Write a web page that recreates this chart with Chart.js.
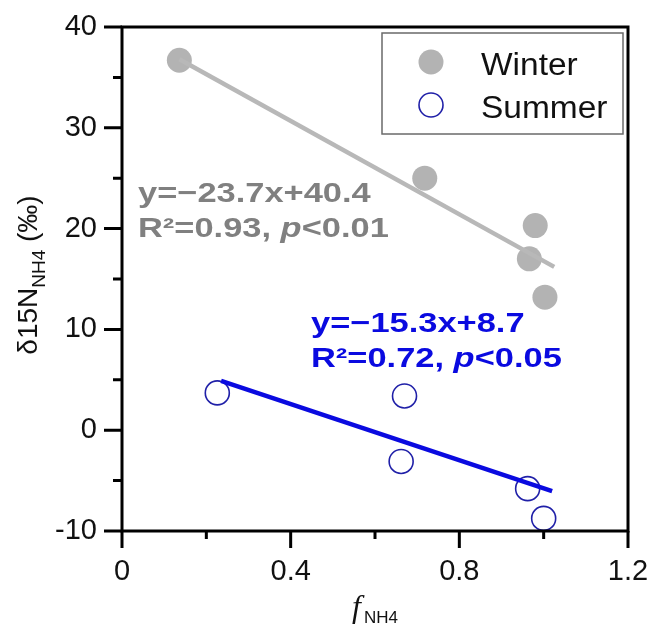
<!DOCTYPE html>
<html>
<head>
<meta charset="utf-8">
<script src="https://cdn.jsdelivr.net/npm/chart.js@4/dist/chart.umd.min.js"></script>
<style>
html, body { margin: 0; padding: 0; background: #fff; }
canvas { display: block; }
</style>
</head>
<body>
<canvas id="chart" width="649" height="625"></canvas>
<script>
// values
const winterX = [0.136, 0.718, 0.980, 0.966, 1.003];
const winterY = [36.7, 25.0, 20.3, 17.0, 13.2];
const summerX = [0.226, 0.670, 0.662, 0.962, 1.000];
const summerY = [3.7, 3.4, -3.1, -5.8, -8.75];
// fitted lines (end points as drawn)
const winterFitX = [0.136, 1.025];
const winterFitY = [36.8, 16.2];
const summerFitX = [0.235, 1.02];
const summerFitY = [4.9, -6.05];

const xMajor = [0, 0.4, 0.8, 1.2];
const xMinor = [0.2, 0.6, 1.0];
const xTickLabels = ['0', '0.4', '0.8', '1.2'];
const yMajor = [-10, 0, 10, 20, 30, 40];
const yMinor = [-5, 5, 15, 25, 35];
const yTickLabels = ['-10', '0', '10', '20', '30', '40'];
const seriesNames = ['Winter', 'Summer'];
const winterEq = ['y=\u221223.7x+40.4', 'R\u00b2=0.93, ', 'p', '<0.01'];
const summerEq = ['y=\u221215.3x+8.7', 'R\u00b2=0.72, ', 'p', '<0.05'];

const GRAY_PT = '#b3b3b3';
const GRAY_LINE = '#b8b8b8';
const GRAY_TXT = '#808080';
const BLUE = '#0a0ae0';
const NAVY = '#2020a8';
const SANS = '"Liberation Sans", Arial, sans-serif';

const pts = (xs, ys) => xs.map((x, i) => ({ x: x, y: ys[i] }));

function eqText(ctx, x, y, parts, color) {
    ctx.save();
    ctx.fillStyle = color;
    ctx.textBaseline = 'alphabetic';
    ctx.textAlign = 'left';
    ctx.translate(x, y);
    ctx.scale(1.23, 1);
    ctx.font = 'bold 28px ' + SANS;
    ctx.fillText(parts[0], 0, 0);
    let cx = 0;
    ctx.fillText(parts[1], cx, 35);
    cx += ctx.measureText(parts[1]).width;
    ctx.font = 'italic bold 28px ' + SANS;
    ctx.fillText(parts[2], cx, 35);
    cx += ctx.measureText(parts[2]).width;
    ctx.font = 'bold 28px ' + SANS;
    ctx.fillText(parts[3], cx, 35);
    ctx.restore();
}

const decor = {
    id: 'decor',
    afterDatasetsDraw(chart) {
        const ctx = chart.ctx;
        const a = chart.chartArea;
        const xs = chart.scales.x, ys = chart.scales.y;
        ctx.save();
        // frame
        ctx.strokeStyle = '#000';
        ctx.lineWidth = 3;
        ctx.strokeRect(a.left, a.top, a.right - a.left, a.bottom - a.top);
        // ticks, outward
        ctx.beginPath();
        xMajor.forEach(v => { const p = xs.getPixelForValue(v); ctx.moveTo(p, a.bottom); ctx.lineTo(p, a.bottom + 17); });
        xMinor.forEach(v => { const p = xs.getPixelForValue(v); ctx.moveTo(p, a.bottom); ctx.lineTo(p, a.bottom + 8); });
        yMajor.forEach(v => { const p = ys.getPixelForValue(v); ctx.moveTo(a.left, p); ctx.lineTo(a.left - 18, p); });
        yMinor.forEach(v => { const p = ys.getPixelForValue(v); ctx.moveTo(a.left, p); ctx.lineTo(a.left - 9, p); });
        ctx.stroke();

        // equations
        eqText(ctx, 138, 202, winterEq, GRAY_TXT);
        eqText(ctx, 311, 332, summerEq, BLUE);

        // legend
        ctx.strokeStyle = '#6a6a6a';
        ctx.lineWidth = 1.5;
        ctx.strokeRect(382, 33, 241, 101);
        ctx.fillStyle = GRAY_PT;
        ctx.beginPath(); ctx.arc(431, 62, 12.5, 0, Math.PI * 2); ctx.fill();
        ctx.strokeStyle = NAVY;
        ctx.lineWidth = 1.6;
        ctx.beginPath(); ctx.arc(431, 105, 12, 0, Math.PI * 2); ctx.stroke();
        ctx.fillStyle = '#111';
        ctx.textAlign = 'left';
        ctx.textBaseline = 'alphabetic';
        ctx.save();
        ctx.translate(481, 0);
        ctx.scale(1.08, 1);
        ctx.font = '31px ' + SANS;
        ctx.fillText(seriesNames[0], 0, 75);
        ctx.fillText(seriesNames[1], 0, 118);
        ctx.restore();

        // y title
        ctx.save();
        ctx.translate(37, 275);
        ctx.rotate(-Math.PI / 2);
        ctx.fillStyle = '#111';
        const mainF = '28px ' + SANS, subF = '19px ' + SANS;
        ctx.font = mainF; const w1 = ctx.measureText('\u03b415N').width;
        ctx.font = subF; const w2 = ctx.measureText('NH4').width;
        ctx.font = mainF; const w3 = ctx.measureText(' (\u2030)').width;
        let tx = -(w1 + w2 + w3) / 2;
        ctx.font = mainF; ctx.fillText('\u03b415N', tx, 0); tx += w1;
        ctx.font = subF; ctx.fillText('NH4', tx, 8); tx += w2;
        ctx.font = mainF; ctx.fillText(' (\u2030)', tx, 0);
        ctx.restore();

        // x title
        ctx.fillStyle = '#111';
        ctx.font = 'italic 32px "Liberation Serif", serif';
        ctx.fillText('f', 352, 617);
        ctx.font = '17px ' + SANS;
        ctx.fillText('NH4', 364, 623);
        ctx.restore();
    }
};

new Chart(document.getElementById('chart'), {
    type: 'scatter',
    data: {
        datasets: [
            { type: 'line', data: pts(winterFitX, winterFitY), borderColor: GRAY_LINE, borderWidth: 4.5, pointRadius: 0, fill: false },
            { type: 'line', data: pts(summerFitX, summerFitY), borderColor: BLUE, borderWidth: 4.5, pointRadius: 0, fill: false },
            { label: seriesNames[0], data: pts(winterX, winterY), backgroundColor: GRAY_PT, borderWidth: 0, pointRadius: 12.5 },
            { label: seriesNames[1], data: pts(summerX, summerY), backgroundColor: 'rgba(0,0,0,0)', borderColor: NAVY, borderWidth: 1.6, pointRadius: 12 }
        ]
    },
    options: {
        responsive: false,
        devicePixelRatio: 1,
        animation: false,
        layout: { padding: { left: 0, top: 27, right: 21, bottom: 0 } },
        plugins: { legend: { display: false }, tooltip: { enabled: false } },
        scales: {
            x: {
                type: 'linear', min: 0, max: 1.2,
                grid: { display: false, drawTicks: false },
                border: { display: false },
                afterBuildTicks: s => { s.ticks = xMajor.map(v => ({ value: v })); },
                afterFit: s => { s.height = 94; s.paddingLeft = 0; s.paddingRight = 0; },
                ticks: {
                    padding: 24, color: '#111', font: { family: SANS, size: 29 },
                    maxRotation: 0,
                    callback: (v) => xTickLabels[xMajor.indexOf(v)]
                }
            },
            y: {
                type: 'linear', min: -10, max: 40,
                grid: { display: false, drawTicks: false },
                border: { display: false },
                afterBuildTicks: s => { s.ticks = yMajor.map(v => ({ value: v })); },
                afterFit: s => { s.width = 122; s.paddingTop = 0; s.paddingBottom = 0; },
                ticks: {
                    padding: 25, color: '#111', font: { family: SANS, size: 29 },
                    callback: (v) => yTickLabels[yMajor.indexOf(v)]
                }
            }
        }
    },
    plugins: [decor]
});
</script>
</body>
</html>
